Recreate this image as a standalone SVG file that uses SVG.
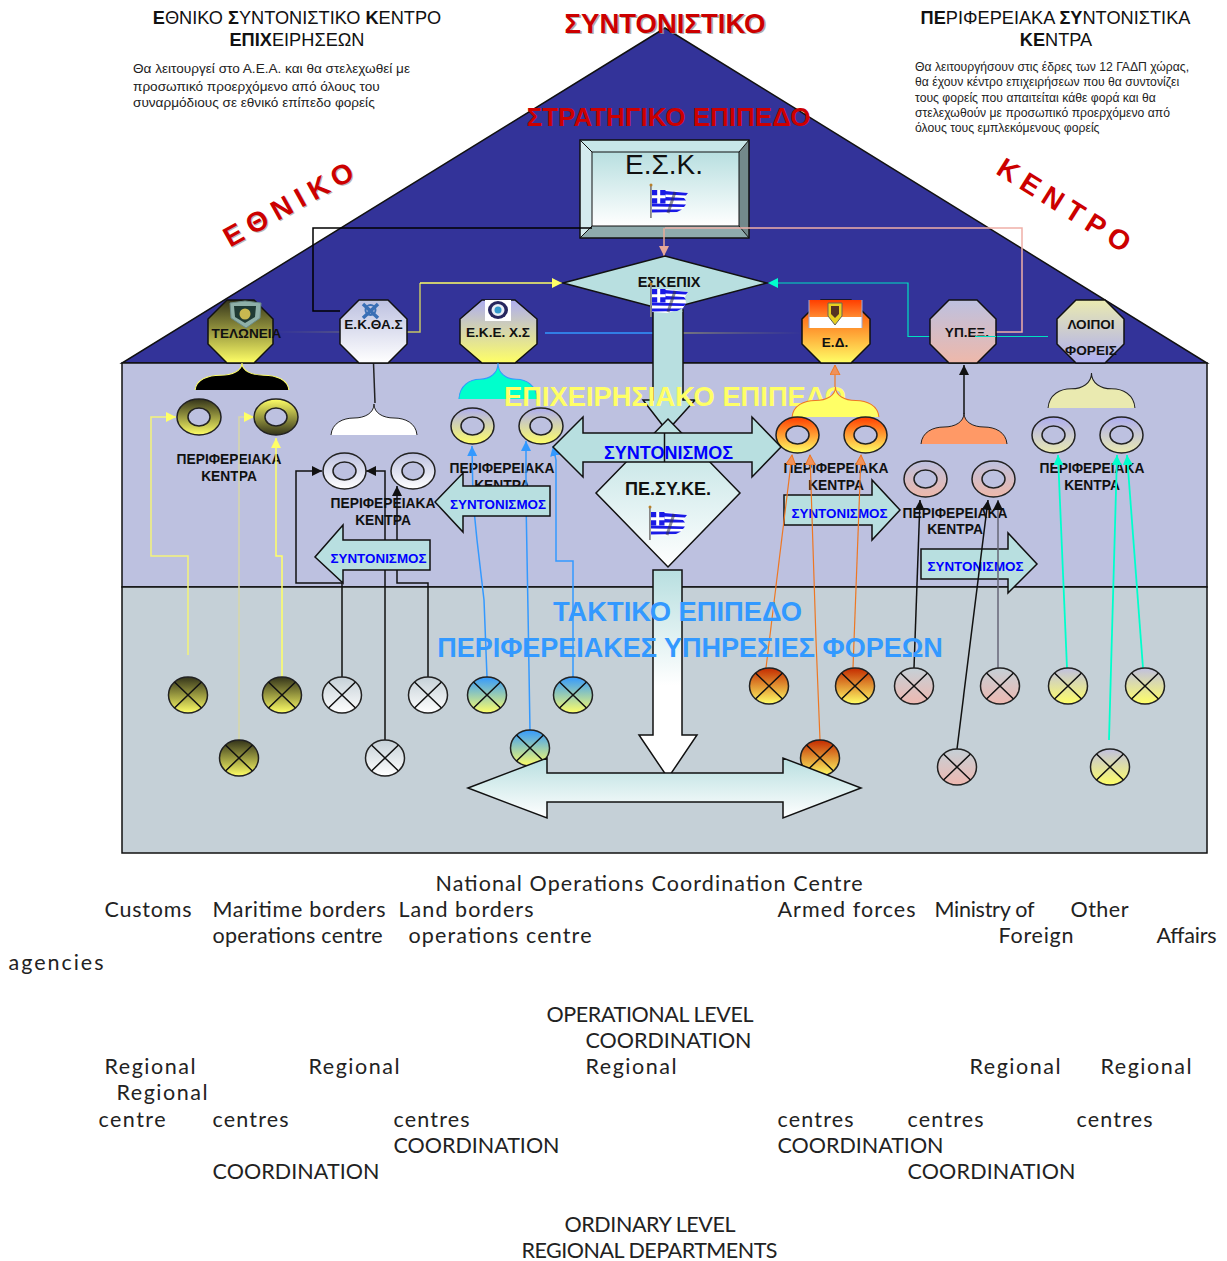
<svg xmlns="http://www.w3.org/2000/svg" xmlns:xlink="http://www.w3.org/1999/xlink" width="1227" height="1261" viewBox="0 0 1227 1261">
<style>
text{font-family:"Liberation Sans",Arial,sans-serif}
.oct{stroke:#111;stroke-width:1.5}
.ol{font-weight:bold;font-size:13.6px;text-anchor:middle;fill:#111}
.pk{font-weight:bold;font-size:13.8px;text-anchor:middle;fill:#111}
.sy{font-weight:bold;font-size:13.4px;text-anchor:middle;fill:#0000ff}
.tit{font-size:18.2px;text-anchor:middle;fill:#111}
.par{font-size:13.6px;fill:#222}
.par2{font-size:12.2px;fill:#222}
.big{font-weight:bold;text-anchor:middle}
.en{font-family:Lato,"Liberation Sans",sans-serif;font-size:21.5px;fill:#222}
.ar{fill:#b8dfe0;stroke:#111;stroke-width:1.5}
.cn{fill:none;stroke-width:1.5}
.bk{stroke:#111}.bl{stroke:#3399ff}.or{stroke:#ee7722;stroke-width:1.2}.cy{stroke:#00ffcc;stroke-width:1.800}
.ye{stroke:#ffff66}
.x{stroke:#111;stroke-width:1.5;fill:none}
</style>
<defs>
<linearGradient id="gBY" x1="0" y1="0" x2="0" y2="1"><stop offset="0" stop-color="#33331a"/><stop offset="1" stop-color="#ffff66"/></linearGradient>
<linearGradient id="gYB" x1="0" y1="0" x2="0" y2="1"><stop offset="0" stop-color="#ffff66"/><stop offset="1" stop-color="#33331a"/></linearGradient>
<linearGradient id="gWh" x1="0" y1="0" x2="0" y2="1"><stop offset="0" stop-color="#bdc1e0"/><stop offset="1" stop-color="#ffffff"/></linearGradient>
<linearGradient id="gLY" x1="0" y1="0" x2="0" y2="1"><stop offset="0" stop-color="#adadf0"/><stop offset="1" stop-color="#ffff66"/></linearGradient>
<linearGradient id="gOr" x1="0" y1="0" x2="0" y2="1"><stop offset="0" stop-color="#ff3e00"/><stop offset="1" stop-color="#ffff66"/></linearGradient>
<linearGradient id="gPk" x1="0" y1="0" x2="0" y2="1"><stop offset="0" stop-color="#bdc1e0"/><stop offset="1" stop-color="#eeb8aa"/></linearGradient>
<linearGradient id="gLv" x1="0" y1="0" x2="0" y2="1"><stop offset="0" stop-color="#adadf0"/><stop offset="1" stop-color="#eaeab0"/></linearGradient>
<linearGradient id="gLv2" x1="0" y1="0" x2="0" y2="1"><stop offset="0" stop-color="#eaeab0"/><stop offset="1" stop-color="#adadf0"/></linearGradient>
<linearGradient id="bWh" x1="0" y1="0" x2="0" y2="1"><stop offset="0" stop-color="#c5d0d7"/><stop offset="1" stop-color="#ffffff"/></linearGradient>
<linearGradient id="bBl" x1="0" y1="0" x2="0" y2="1"><stop offset="0" stop-color="#3399ff"/><stop offset="1" stop-color="#ffff66"/></linearGradient>
<linearGradient id="bOr" x1="0" y1="0" x2="0" y2="1"><stop offset="0" stop-color="#c42a00"/><stop offset="1" stop-color="#ffff66"/></linearGradient>
<linearGradient id="bPk" x1="0" y1="0" x2="0" y2="1"><stop offset="0" stop-color="#c5d0d7"/><stop offset="1" stop-color="#eeb8b0"/></linearGradient>
<linearGradient id="bLv" x1="0" y1="0" x2="0" y2="1"><stop offset="0" stop-color="#c0c0e0"/><stop offset="1" stop-color="#ffff66"/></linearGradient>
<linearGradient id="tw" x1="0" y1="0" x2="0" y2="1"><stop offset="0" stop-color="#b8dfe0"/><stop offset="1" stop-color="#ffffff"/></linearGradient>
<linearGradient id="tw2" gradientUnits="userSpaceOnUse" x1="0" y1="570" x2="0" y2="735"><stop offset="0" stop-color="#b8dfe0"/><stop offset=".7" stop-color="#ffffff"/></linearGradient>
<linearGradient id="fOl" x1="0" y1="0" x2="1" y2="0"><stop offset="0" stop-color="#8a8a60" stop-opacity="0"/><stop offset="1" stop-color="#b5b566"/></linearGradient>
<linearGradient id="fOr" x1="0" y1="0" x2="1" y2="0"><stop offset="0" stop-color="#b5b566"/><stop offset="1" stop-color="#8a8a60" stop-opacity="0"/></linearGradient>
<linearGradient id="fEd" x1="0" y1="0" x2="0" y2="1"><stop offset="0" stop-color="#ff3e00"/><stop offset="1" stop-color="#ff8a30"/></linearGradient>
<path id="cap" d="M-43,0C-42,-12 -31,-17 -20,-17C-9,-17 0,-22 0,-31C0,-22 9,-17 20,-17C31,-17 42,-12 43,0"/>
<g id="flag">
<path d="M2,6L14,6L24,7L38,9L35,14L36,20L33,25L18,30L2,29Z" fill="#ffffff"/>
<path d="M15,7L38,9L36,11.500L15,10.500ZM15,13L34,14L36,16.500L15,16.500ZM2,19.500L36,20.500L34,23L2,22.500ZM2,25.500L32,25.500L27,28L2,28.500Z" fill="#1a1ae6"/>
<path d="M2,6H15.500V19.500H2Z" fill="#1a1ae6"/><path d="M7.200,6H10.200V19.500H7.200ZM2,11.300H15.500V14.300H2Z" fill="#fff"/>
<path d="M25,8L18,29" stroke="#334" stroke-width="3" opacity=".55"/>
<rect x="0" y="1" width="1.800" height="33" fill="#888"/><circle cx="1" cy="1" r="1.500" fill="#b8802a"/>
</g>
<g id="bx"><path class="x" d="M-13.500,-13L13.500,13M13.500,-13L-13.500,13"/></g>
<marker id="mBk" markerUnits="userSpaceOnUse" markerWidth="12" markerHeight="12" refX="10" refY="5" orient="auto"><path d="M0,0L10,5L0,10Z" fill="#111"/></marker>
<marker id="mBl" markerUnits="userSpaceOnUse" markerWidth="12" markerHeight="12" refX="10" refY="5" orient="auto"><path d="M0,0L10,5L0,10Z" fill="#3399ff"/></marker>
<marker id="mOr" markerUnits="userSpaceOnUse" markerWidth="12" markerHeight="12" refX="10" refY="5" orient="auto"><path d="M0,0L10,5L0,10Z" fill="#f0915a" stroke="#ee7722"/></marker>
<marker id="mCy" markerUnits="userSpaceOnUse" markerWidth="12" markerHeight="12" refX="10" refY="5" orient="auto"><path d="M0,0L10,5L0,10Z" fill="#00ffcc"/></marker>
<marker id="mYe" markerUnits="userSpaceOnUse" markerWidth="12" markerHeight="12" refX="10" refY="5" orient="auto"><path d="M0,0L10,5L0,10Z" fill="#ffff66"/></marker>
<marker id="mPk" markerUnits="userSpaceOnUse" markerWidth="12" markerHeight="12" refX="10" refY="5" orient="auto"><path d="M0,0L10,5L0,10Z" fill="#e8a898"/></marker>
</defs>

<rect width="1227" height="1261" fill="#ffffff"/>

<g id="top-notes">
<text class="tit" x="297" y="24"><tspan font-weight="bold">Ε</tspan>ΘΝΙΚΟ <tspan font-weight="bold">Σ</tspan>ΥΝΤΟΝΙΣΤΙΚΟ <tspan font-weight="bold">Κ</tspan>ΕΝΤΡΟ</text>
<text class="tit" x="297" y="46"><tspan font-weight="bold">ΕΠΙΧ</tspan>ΕΙΡΗΣΕΩΝ</text>
<text class="par" x="133" y="73">Θα λειτουργεί στο Α.Ε.Α. και θα στελεχωθεί με</text>
<text class="par" x="133" y="91">προσωπικό προερχόμενο από όλους του</text>
<text class="par" x="133" y="107">συναρμόδιους σε εθνικό επίπεδο φορείς</text>
<text class="tit" x="1055.500" y="24"><tspan font-weight="bold">ΠΕ</tspan>ΡΙΦΕΡΕΙΑΚΑ <tspan font-weight="bold">ΣΥ</tspan>ΝΤΟΝΙΣΤΙΚΑ</text>
<text class="tit" x="1056" y="46"><tspan font-weight="bold">ΚΕ</tspan>ΝΤΡΑ</text>
<text class="par2" x="915" y="71">Θα λειτουργήσουν στις έδρες των 12 ΓΑΔΠ χώρας,</text>
<text class="par2" x="915" y="86">θα έχουν κέντρο επιχειρήσεων που θα συντονίζει</text>
<text class="par2" x="915" y="102">τους φορείς που απαιτείται κάθε φορά και θα</text>
<text class="par2" x="915" y="117">στελεχωθούν με προσωπικό προερχόμενο από</text>
<text class="par2" x="915" y="132">όλους τους εμπλεκόμενους φορείς</text>
</g>

<g id="building">
<polygon points="665,28 1207,363 122,363" fill="#333399" stroke="#111" stroke-width="1.500"/>
<rect x="122" y="363" width="1085" height="224" fill="#bdc1e0" stroke="#111" stroke-width="1.500"/>
<rect x="122" y="587" width="1085" height="266" fill="#c5d0d7" stroke="#111" stroke-width="1.500"/>
</g>

<g id="headings-back">
<text class="big" x="666.500" y="33.500" font-size="27.500" fill="#999" opacity=".8">ΣΥΝΤΟΝΙΣΤΙΚΟ</text>
<text class="big" x="665" y="32.500" font-size="27.500" fill="#cc0000">ΣΥΝΤΟΝΙΣΤΙΚΟ</text>
<text class="big" x="668.500" y="125.500" font-size="26" fill="#cc0000">ΣΤΡΑΤΗΓΙΚΟ ΕΠΙΠΕΔΟ</text>
<text class="big" font-size="28" fill="#999" opacity=".7" letter-spacing="7" transform="translate(297,212) rotate(-29)">ΕΘΝΙΚΟ</text>
<text class="big" font-size="28" fill="#cc0000" letter-spacing="7" transform="translate(296,211) rotate(-29)">ΕΘΝΙΚΟ</text>
<text class="big" font-size="28" fill="#cc0000" letter-spacing="7" transform="translate(1062,215) rotate(32)">ΚΕΝΤΡΟ</text>
</g>

<g id="esk">
<rect x="580" y="140" width="169" height="98" fill="#b8dfe0"/>
<polygon points="580,140 749,140 739,152 592,152" fill="#c7e6e8"/>
<polygon points="580,140 592,152 592,226 580,238" fill="#d5ebee"/>
<polygon points="749,140 749,238 739,226 739,152" fill="#73898b"/>
<polygon points="580,238 592,226 739,226 749,238" fill="#8fabad"/>
<rect x="592" y="152" width="147" height="74" fill="url(#tw)" stroke="#111"/>
<rect x="580" y="140" width="169" height="98" fill="none" stroke="#111" stroke-width="1.500"/>
<path d="M580,140L592,152M749,140L739,152M580,238L592,226M749,238L739,226" stroke="#111"/>
<text x="664" y="173.500" font-size="28" text-anchor="middle" fill="#111">Ε.Σ.Κ.</text>
<use href="#flag" x="650" y="184"/>
</g>

<g id="right-arrows">
<polygon class="ar" points="784,495 872,495 872,480 900,510 872,540 872,525 784,525"/>
<text class="sy" x="839.500" y="518">ΣΥΝΤΟΝΙΣΜΟΣ</text>
<polygon class="ar" points="921,549 1008,549 1008,533 1037,564 1008,593 1008,579 921,579"/>
<text class="sy" x="975.500" y="571">ΣΥΝΤΟΝΙΣΜΟΣ</text>
</g>

<g id="labels">
<text class="pk" x="229" y="464">ΠΕΡΙΦΕΡΕΙΑΚΑ</text><text class="pk" x="229" y="481">ΚΕΝΤΡΑ</text>
<text class="pk" x="383" y="508">ΠΕΡΙΦΕΡΕΙΑΚΑ</text><text class="pk" x="383" y="525">ΚΕΝΤΡΑ</text>
<text class="pk" x="502" y="473">ΠΕΡΙΦΕΡΕΙΑΚΑ</text><text class="pk" x="502" y="490">ΚΕΝΤΡΑ</text>
<text class="pk" x="836" y="473">ΠΕΡΙΦΕΡΕΙΑΚΑ</text><text class="pk" x="836" y="490">ΚΕΝΤΡΑ</text>
<text class="pk" x="955" y="518">ΠΕΡΙΦΕΡΕΙΑΚΑ</text><text class="pk" x="955" y="534">ΚΕΝΤΡΑ</text>
<text class="pk" x="1092" y="473">ΠΕΡΙΦΕΡΕΙΑΚΑ</text><text class="pk" x="1092" y="490">ΚΕΝΤΡΑ</text>
</g>

<g id="connectors">
<path class="cn" stroke="#000" d="M592,228H313V311H340"/>
<path class="cn" stroke="#f0b0a8" stroke-width="1" d="M665,228H1022V332H975"/>
<path class="cn" stroke="#e8a898" d="M664,228V256" marker-end="url(#mPk)"/>
<path class="cn" stroke="#c5c566" d="M407,332H420V283" />
<path class="cn ye" d="M420,283H562" marker-end="url(#mYe)"/>
<rect x="273" y="331.500" width="134" height="1" fill="url(#fOl)"/>
<path class="cn bl" d="M545,333H653"/>
<rect x="683" y="332.500" width="120" height="1" fill="url(#fOr)"/>
<path fill="none" stroke="#00e0c0" stroke-width="1.200" d="M1048,336.500H908V283H768" marker-end="url(#mCy)"/>

<path class="cn" stroke="#f4f47a" stroke-width="1" d="M188,655V556H151V417H176" marker-end="url(#mYe)"/>
<path class="cn" stroke="#d8d8a8" stroke-width="1" d="M239,740V417H254" marker-end="url(#mYe)"/>
<path class="cn ye" d="M282,677V556H276V438" marker-end="url(#mYe)"/>
<path class="cn bk" d="M342,677V583H296V471H322" marker-end="url(#mBk)"/>
<path class="cn bk" d="M385,740V471H366" marker-end="url(#mBk)"/>
<path class="cn bk" d="M428,677V583H397V486" marker-end="url(#mBk)"/>
<path class="cn bl" stroke-width="1.200" d="M487,677L484,600L477,540L473,500L472,446" marker-end="url(#mBl)"/>
<path class="cn bl" stroke-width="1.200" d="M530,731L528,610L526,500V441" marker-end="url(#mBl)"/>
<path class="cn bl" d="M573,677V561H556V460L553,446" marker-end="url(#mBl)"/>
<path class="cn or" d="M766,668L792,455" marker-end="url(#mOr)"/>
<path class="cn or" d="M820,740L816,640L810,455" marker-end="url(#mOr)"/>
<path class="cn or" d="M853,668L861,455" marker-end="url(#mOr)"/>
<path class="cn or" d="M835,388V365" marker-end="url(#mOr)"/>
<path class="cn bk" d="M964,414V365" marker-end="url(#mBk)"/>
<path class="cn" stroke="#222" d="M373.500,363L375,403"/>
<path class="cn bk" d="M914,668L920,500" marker-end="url(#mBk)"/>
<path class="cn bk" stroke-width="1.200" d="M957,749L988,500" marker-end="url(#mBk)"/>
<path class="cn" stroke="#667" d="M998,668V500" marker-end="url(#mBk)"/>
<path class="cn cy" d="M1067,668L1058,455" marker-end="url(#mCy)"/>
<path class="cn cy" d="M1109,740L1117,455" marker-end="url(#mCy)"/>
<path class="cn cy" d="M1143,668L1127,455" marker-end="url(#mCy)"/>
</g>

<g id="node-teloneia">
<polygon class="oct" fill="url(#gBY)" points="227,300 254,300 273,319 273,344 254,363 227,363 208,344 208,319"/>
<path d="M230,303L245,301L261,303L260,318L246,328L231,318Z" fill="#8fb0a8" stroke="#6a8a88"/>
<path d="M234,306H256L255,317L245,323L235,317Z" fill="#1f3a34"/><circle cx="245" cy="314" r="5.500" fill="#c8b850"/>
<text class="ol" x="246.500" y="338">ΤΕΛΩΝΕΙΑ</text>
<use href="#cap" transform="translate(242,390) scale(1.090,.870)" fill="#000" stroke="#ffff66"/>
</g>
<g id="node-ekthas">
<polygon class="oct" fill="url(#gWh)" points="359,300 388,300 407,319 407,344 388,363 359,363 340,344 340,319"/>
<path d="M363,304L378,318M378,304L363,318" stroke="#3a6fb5" stroke-width="3.500"/><circle cx="370.500" cy="310" r="5" fill="none" stroke="#3a6fb5" stroke-width="2"/>
<text class="ol" x="373.500" y="329">Ε.Κ.ΘΑ.Σ</text>
<use href="#cap" transform="translate(374,435)" fill="#fff" stroke="#222"/>
</g>
<g id="node-ekexs">
<polygon class="oct" fill="url(#gLY)" points="482,300 515,300 537,319 537,344 515,363 482,363 460,344 460,319"/>
<rect x="485" y="300" width="26" height="21" fill="#fff"/><ellipse cx="498" cy="310" rx="10" ry="9" fill="#26265e"/><ellipse cx="498" cy="310" rx="6.500" ry="6" fill="#e8eef6"/><circle cx="498" cy="310" r="3.500" fill="#3399cc"/>
<text class="ol" x="498" y="337">Ε.Κ.Ε. Χ.Σ</text>
</g>
<g id="node-ed">
<polygon class="oct" fill="url(#gOr)" points="821,300 851,300 870,319 870,344 851,363 821,363 802,344 802,319"/>
<rect x="809" y="317" width="53" height="11" fill="#fff"/><rect x="809" y="300" width="53" height="17" fill="url(#fEd)"/>
<path d="M809,300V328M862,300V328" stroke="#9aa8d8"/>
<path d="M828,303H842V316L835,325L828,316Z" fill="#e8d020" stroke="#665"/><path d="M831,306H839V314L835,318L831,314Z" fill="#553322"/>
<text class="ol" x="835" y="347">Ε.Δ.</text>
</g>
<g id="node-ypex">
<polygon class="oct" fill="url(#gPk)" points="949,300 977,300 996,319 996,344 977,363 949,363 930,344 930,319"/>
<text class="ol" x="967" y="337">ΥΠ.ΕΞ.</text>
<path d="M975,336.500H996" stroke="#00e0c0" stroke-width="1"/>
</g>
<g id="node-loipoi">
<polygon class="oct" fill="url(#gLv2)" points="1076,300 1105,300 1124,319 1124,344 1105,363 1076,363 1057,344 1057,319"/>
<text class="ol" x="1091" y="329">ΛΟΙΠΟΙ</text><text class="ol" x="1091" y="355">ΦΟΡΕΙΣ</text>
</g>

<g id="center-arrow">
<polygon class="ar" points="653,310 683,310 683,400 695,400 667,431 643,400 653,400"/>
</g>
<g id="node-eskepix">
<polygon points="563,283 665,256 767,283 665,310" fill="#b8dfe0" stroke="#111" stroke-width="1.500"/>
<rect x="653.800" y="300" width="28.500" height="12" fill="#b8dfe0"/>
<text x="669" y="287" font-size="14.500" font-weight="bold" text-anchor="middle" fill="#111">ΕΣΚΕΠΙΧ</text>
<use href="#flag" x="650" y="283"/>
</g>

<g id="heading-op">
<use href="#cap" transform="translate(498,399) scale(.910,1.160)" fill="#00ffcc" stroke="#3399ff"/>
<text class="big" x="675" y="406" font-size="27.300" fill="#ffff66">ΕΠΙΧΕΙΡΗΣΙΑΚΟ ΕΠΙΠΕΔΟ</text>
</g>

<g id="caps">
<use href="#cap" transform="translate(835.500,417) scale(1.010,.970)" fill="#ffff66" stroke="#ee7722"/>
<use href="#cap" transform="translate(964,444) scale(1,1)" fill="#ff9966" stroke="#222"/>
<use href="#cap" transform="translate(1091.500,408) scale(1.010,1.130)" fill="#eaeab0" stroke="#222"/>
</g>

<g id="rings" stroke="#222" stroke-width="1.500">
<g fill="url(#gBY)"><path fill-rule="evenodd" d="M177,417a22,18 0 1,0 44,0a22,18 0 1,0 -44,0ZM188,417a11,9 0 1,0 22,0a11,9 0 1,0 -22,0Z"/></g>
<g fill="url(#gYB)"><path fill-rule="evenodd" d="M254,417a22,18 0 1,0 44,0a22,18 0 1,0 -44,0ZM265,417a11,9 0 1,0 22,0a11,9 0 1,0 -22,0Z"/></g>
<g fill="url(#gWh)">
<path fill-rule="evenodd" d="M323,471a21.500,18 0 1,0 43,0a21.500,18 0 1,0 -43,0ZM333,471a11.500,9 0 1,0 23,0a11.500,9 0 1,0 -23,0Z"/>
<path fill-rule="evenodd" d="M391,471a22,18 0 1,0 44,0a22,18 0 1,0 -44,0ZM402,471a11,9 0 1,0 22,0a11,9 0 1,0 -22,0Z"/>
</g>
<g fill="url(#gLY)">
<path fill-rule="evenodd" d="M451,426a21.500,18 0 1,0 43,0a21.500,18 0 1,0 -43,0ZM461,426a11.500,9 0 1,0 23,0a11.500,9 0 1,0 -23,0Z"/>
<path fill-rule="evenodd" d="M519,426a22,18 0 1,0 44,0a22,18 0 1,0 -44,0ZM530,426a11,9 0 1,0 22,0a11,9 0 1,0 -22,0Z"/>
</g>
<g fill="url(#gOr)">
<path fill-rule="evenodd" d="M776,435a21.500,18 0 1,0 43,0a21.500,18 0 1,0 -43,0ZM786,435a11.500,9 0 1,0 23,0a11.500,9 0 1,0 -23,0Z"/>
<path fill-rule="evenodd" d="M844,435a21.500,18 0 1,0 43,0a21.500,18 0 1,0 -43,0ZM854,435a11.500,9 0 1,0 23,0a11.500,9 0 1,0 -23,0Z"/>
</g>
<g fill="url(#gPk)">
<path fill-rule="evenodd" d="M904,479a21.500,18 0 1,0 43,0a21.500,18 0 1,0 -43,0ZM914,479a11.500,9 0 1,0 23,0a11.500,9 0 1,0 -23,0Z"/>
<path fill-rule="evenodd" d="M972,479a21.500,18 0 1,0 43,0a21.500,18 0 1,0 -43,0ZM982,479a11.500,9 0 1,0 23,0a11.500,9 0 1,0 -23,0Z"/>
</g>
<g fill="url(#gLv)">
<path fill-rule="evenodd" d="M1032,435a21.500,18 0 1,0 43,0a21.500,18 0 1,0 -43,0ZM1042,435a11.500,9 0 1,0 23,0a11.500,9 0 1,0 -23,0Z"/>
<path fill-rule="evenodd" d="M1100,435a21.500,18 0 1,0 43,0a21.500,18 0 1,0 -43,0ZM1110,435a11.500,9 0 1,0 23,0a11.500,9 0 1,0 -23,0Z"/>
</g>
</g>

<g id="node-pesyke">
<polygon points="668,419 740,493 668,567 596,493" fill="url(#tw)" stroke="#111" stroke-width="1.500"/>
<text x="668" y="495" font-size="18" font-weight="bold" text-anchor="middle" fill="#111">ΠΕ.ΣΥ.ΚΕ.</text>
<use href="#flag" x="649" y="506"/>
</g>

<g id="left-arrows">
<polygon class="ar" points="430,540 343,540 343,525 315,557 343,583 343,570 430,570"/>
<text class="sy" x="378.500" y="563">ΣΥΝΤΟΝΙΣΜΟΣ</text>
<polygon class="ar" points="550,486 463,486 463,473 435,502 463,532 463,516 550,516"/>
<text class="sy" x="498" y="509">ΣΥΝΤΟΝΙΣΜΟΣ</text>
<polygon class="ar" points="553,447 583,417 583,433 752,433 752,417 781,447 752,477 752,462 583,462 583,477"/>
<path d="M664.500,433V462" stroke="#111" stroke-width="1.500"/>
<text x="668.500" y="459" font-size="18" font-weight="bold" text-anchor="middle" fill="#0000ff">ΣΥΝΤΟΝΙΣΜΟΣ</text>
</g>

<g id="bulbs">
<g stroke="#222" stroke-width="1.500" fill="url(#gBY)">
<ellipse cx="188" cy="695" rx="19.500" ry="18"/><ellipse cx="282" cy="695" rx="19.500" ry="18"/><ellipse cx="239" cy="758" rx="19.500" ry="18"/>
</g>
<g stroke="#222" stroke-width="1.500" fill="url(#bWh)">
<ellipse cx="342" cy="695" rx="19.500" ry="18"/><ellipse cx="428" cy="695" rx="19.500" ry="18"/><ellipse cx="385" cy="758" rx="19.500" ry="18"/>
</g>
<g stroke="#222" stroke-width="1.500" fill="url(#bBl)">
<ellipse cx="487" cy="695" rx="19.500" ry="18"/><ellipse cx="573" cy="695" rx="19.500" ry="18"/><ellipse cx="530" cy="748" rx="19.500" ry="18"/>
</g>
<g stroke="#222" stroke-width="1.500" fill="url(#bOr)">
<ellipse cx="769" cy="686" rx="19.500" ry="18"/><ellipse cx="855" cy="686" rx="19.500" ry="18"/><ellipse cx="820" cy="758" rx="19.500" ry="18"/>
</g>
<g stroke="#222" stroke-width="1.500" fill="url(#bPk)">
<ellipse cx="914" cy="686" rx="19.500" ry="18"/><ellipse cx="1000" cy="686" rx="19.500" ry="18"/><ellipse cx="957" cy="767" rx="19.500" ry="18"/>
</g>
<g stroke="#222" stroke-width="1.500" fill="url(#bLv)">
<ellipse cx="1068" cy="686" rx="19.500" ry="18"/><ellipse cx="1145" cy="686" rx="19.500" ry="18"/><ellipse cx="1110" cy="767" rx="19.500" ry="18"/>
</g>
<use href="#bx" x="188" y="695"/><use href="#bx" x="282" y="695"/><use href="#bx" x="239" y="758"/>
<use href="#bx" x="342" y="695"/><use href="#bx" x="428" y="695"/><use href="#bx" x="385" y="758"/>
<use href="#bx" x="487" y="695"/><use href="#bx" x="573" y="695"/><use href="#bx" x="530" y="748"/>
<use href="#bx" x="769" y="686"/><use href="#bx" x="855" y="686"/><use href="#bx" x="820" y="758"/>
<use href="#bx" x="914" y="686"/><use href="#bx" x="1000" y="686"/><use href="#bx" x="957" y="767"/>
<use href="#bx" x="1068" y="686"/><use href="#bx" x="1145" y="686"/><use href="#bx" x="1110" y="767"/>
</g>

<g id="bottom-arrows">
<polygon points="653,570 682,570 682,735 697,735 668,778 639,735 653,735" fill="url(#tw2)" stroke="#111" stroke-width="1.500"/>
<polygon points="468,788 547,758 547,773 783,773 783,758 861,788 783,818 783,802 547,802 547,818" fill="url(#tw)" stroke="#111" stroke-width="1.500"/>
</g>

<g id="heading-tac">
<text class="big" x="677.500" y="621" font-size="27.300" fill="#3399ff">ΤΑΚΤΙΚΟ ΕΠΙΠΕΔΟ</text>
<text class="big" x="690" y="657" font-size="27" fill="#3399ff">ΠΕΡΙΦΕΡΕΙΑΚΕΣ ΥΠΗΡΕΣΙΕΣ ΦΟΡΕΩΝ</text>
</g>

<g id="english-text" transform="translate(-0.5,1)">
<text class="en" x="436" y="890" textLength="427">National Operations Coordination Centre</text>
<text class="en" x="105" y="916" textLength="87">Customs</text>
<text class="en" x="213" y="916" textLength="173">Maritime borders</text>
<text class="en" x="399" y="916" textLength="135">Land borders</text>
<text class="en" x="778" y="916" textLength="138">Armed forces</text>
<text class="en" x="935" y="916" textLength="100">Ministry of</text>
<text class="en" x="1071" y="916" textLength="58">Other</text>
<text class="en" x="213" y="942" textLength="170">operations centre</text>
<text class="en" x="409" y="942" textLength="183">operations centre</text>
<text class="en" x="999" y="942" textLength="75">Foreign</text>
<text class="en" x="1157" y="942" textLength="60">Affairs</text>
<text class="en" x="9" y="969" textLength="95">agencies</text>
<text class="en" x="547" y="1021" textLength="207">OPERATIONAL LEVEL</text>
<text class="en" x="586" y="1047" textLength="166">COORDINATION</text>
<text class="en" x="105" y="1073" textLength="91">Regional</text>
<text class="en" x="309" y="1073" textLength="91">Regional</text>
<text class="en" x="586" y="1073" textLength="91">Regional</text>
<text class="en" x="970" y="1073" textLength="91">Regional</text>
<text class="en" x="1101" y="1073" textLength="91">Regional</text>
<text class="en" x="117" y="1099" textLength="91">Regional</text>
<text class="en" x="99" y="1126" textLength="67">centre</text>
<text class="en" x="213" y="1126" textLength="76">centres</text>
<text class="en" x="394" y="1126" textLength="76">centres</text>
<text class="en" x="778" y="1126" textLength="76">centres</text>
<text class="en" x="908" y="1126" textLength="76">centres</text>
<text class="en" x="1077" y="1126" textLength="76">centres</text>
<text class="en" x="394" y="1152" textLength="166">COORDINATION</text>
<text class="en" x="778" y="1152" textLength="166">COORDINATION</text>
<text class="en" x="213" y="1178" textLength="167">COORDINATION</text>
<text class="en" x="908" y="1178" textLength="168">COORDINATION</text>
<text class="en" x="565" y="1231" textLength="171">ORDINARY LEVEL</text>
<text class="en" x="522" y="1257" textLength="256">REGIONAL DEPARTMENTS</text>
</g>
</svg>
